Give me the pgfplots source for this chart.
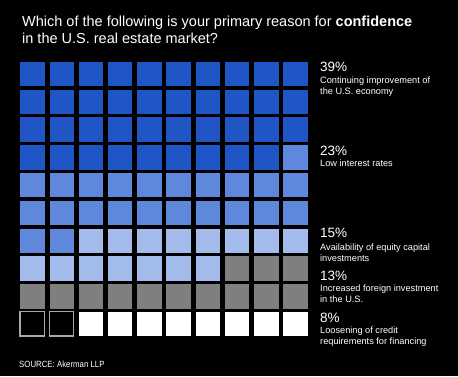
\documentclass[border=0pt]{standalone}
\usepackage{fontspec}
\setmainfont{Liberation Sans}
\usepackage{pgfplots}
\pgfplotsset{compat=1.18}
\definecolor{cdark}{HTML}{1F55C4}
\definecolor{cmed}{HTML}{5F88DC}
\definecolor{clight}{HTML}{A4BCEC}
\definecolor{cgray}{HTML}{7F7F7F}
\definecolor{cedge}{HTML}{A8A8A8}
\begin{document}
\begin{tikzpicture}[x=1bp,y=1bp]
\fill[black] (0,0) rectangle (458,376);
\begin{axis}[at={(0,0)},anchor=south west,
  width=458bp,height=376bp,scale only axis,hide axis,
  xmin=-0.1016,xmax=15.567,
  y dir=reverse,ymin=-1.651,ymax=11.874,
  clip=false]
% 39% continuing improvement (dark blue)
\addplot[only marks,mark=square*,mark size=12.7bp,mark options={fill=cdark,draw=none}] coordinates {
(1,1)(2,1)(3,1)(4,1)(5,1)(6,1)(7,1)(8,1)(9,1)(10,1)
(1,2)(2,2)(3,2)(4,2)(5,2)(6,2)(7,2)(8,2)(9,2)(10,2)
(1,3)(2,3)(3,3)(4,3)(5,3)(6,3)(7,3)(8,3)(9,3)(10,3)
(1,4)(2,4)(3,4)(4,4)(5,4)(6,4)(7,4)(8,4)(9,4)};
% 23% low interest rates (medium blue)
\addplot[only marks,mark=square*,mark size=12.7bp,mark options={fill=cmed,draw=none}] coordinates {
(10,4)
(1,5)(2,5)(3,5)(4,5)(5,5)(6,5)(7,5)(8,5)(9,5)(10,5)
(1,6)(2,6)(3,6)(4,6)(5,6)(6,6)(7,6)(8,6)(9,6)(10,6)
(1,7)(2,7)};
% 15% equity capital (light blue)
\addplot[only marks,mark=square*,mark size=12.7bp,mark options={fill=clight,draw=none}] coordinates {
(3,7)(4,7)(5,7)(6,7)(7,7)(8,7)(9,7)(10,7)
(1,8)(2,8)(3,8)(4,8)(5,8)(6,8)(7,8)};
% 13% foreign investment (gray)
\addplot[only marks,mark=square*,mark size=12.7bp,mark options={fill=cgray,draw=none}] coordinates {
(8,8)(9,8)(10,8)
(1,9)(2,9)(3,9)(4,9)(5,9)(6,9)(7,9)(8,9)(9,9)(10,9)};
% 8% loosening of credit (white)
\addplot[only marks,mark=square*,mark size=12.7bp,mark options={fill=white,draw=none}] coordinates {
(3,10)(4,10)(5,10)(6,10)(7,10)(8,10)(9,10)(10,10)};
% remaining 2% (empty)
\addplot[only marks,mark=square*,mark size=12.1bp,mark options={fill=black,draw=cedge,line width=1.3bp}] coordinates {
(1,10)(2,10)};
\end{axis}
% title
\node[anchor=base west,inner sep=0,text=white,font=\fontsize{14.5bp}{17bp}\selectfont] at (22,376-26) {Which of the following is your primary reason for \textbf{confidence}};
\node[anchor=base west,inner sep=0,text=white,font=\fontsize{14.5bp}{17bp}\selectfont] at (22,376-43) {in the U.S. real estate market?};
% labels
\tikzset{pct/.style={anchor=base west,inner sep=0,text=white,font=\fontsize{13.5bp}{16bp}\selectfont},
 dsc/.style={anchor=base west,inner sep=0,text=white,font=\fontsize{9.2bp}{11bp}\selectfont}}
\node[pct] at (320,376-71) {39\%};
\node[dsc] at (320,376-83) {Continuing improvement of};
\node[dsc] at (320,376-94) {the U.S. economy};
\node[pct] at (320,376-155) {23\%};
\node[dsc] at (320,376-166) {Low interest rates};
\node[pct] at (320,376-237) {15\%};
\node[dsc] at (320,376-250) {Availability of equity capital};
\node[dsc] at (320,376-261) {investments};
\node[pct] at (320,376-280) {13\%};
\node[dsc] at (320,376-291) {Increased foreign investment};
\node[dsc] at (320,376-302) {in the U.S.};
\node[pct] at (320,376-322) {8\%};
\node[dsc] at (320,376-333) {Loosening of credit};
\node[dsc] at (320,376-344) {requirements for financing};
\node[anchor=base west,inner sep=0,text=white,font=\fontsize{9bp}{11bp}\selectfont] at (19,376-367) {\scalebox{0.87}[1]{SOURCE: Akerman LLP}};
\pgfresetboundingbox
\useasboundingbox (0,0) rectangle (458,376);
\end{tikzpicture}
\end{document}
